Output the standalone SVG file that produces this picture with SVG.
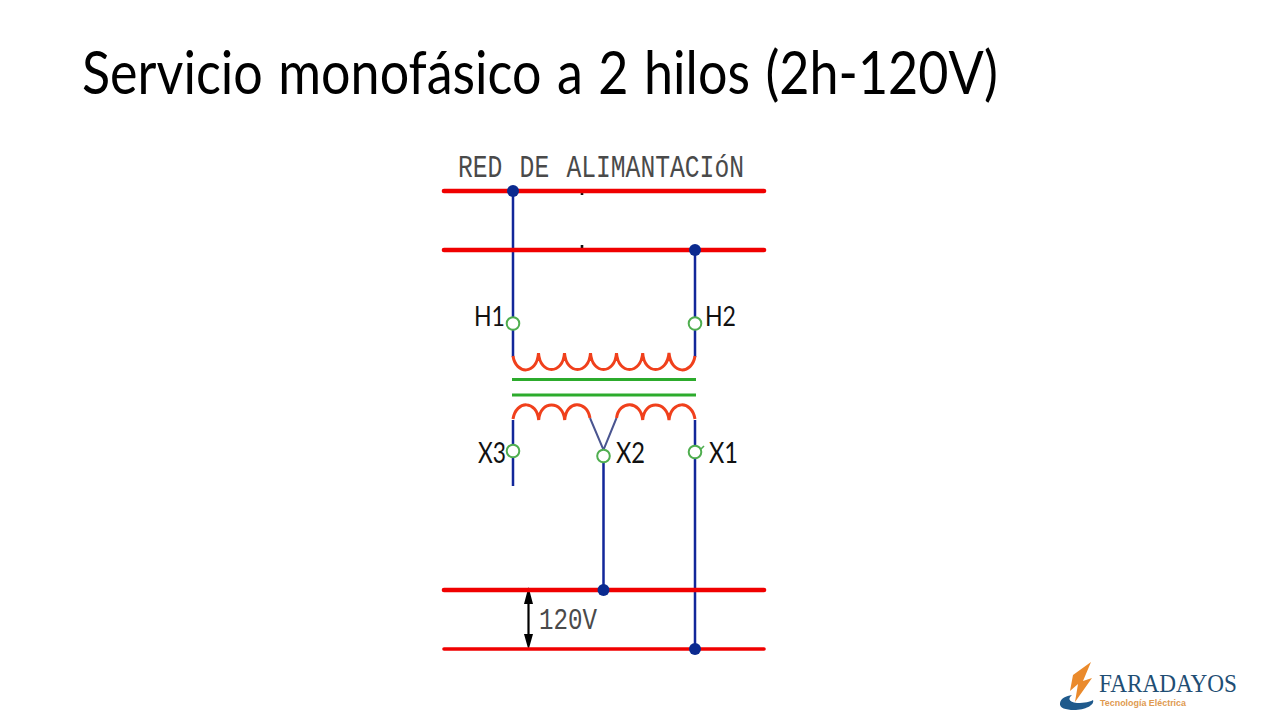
<svg xmlns="http://www.w3.org/2000/svg" width="1280" height="720" viewBox="0 0 1280 720">
<style>
.bus{stroke:#f00000;stroke-width:4.6;stroke-linecap:round;fill:none}
.wire{stroke:#12279a;stroke-width:2.5;fill:none}
.coil{stroke:#f0401c;stroke-width:3;fill:none}
.core{stroke:#2cab2c;stroke-width:3;fill:none}
.term{fill:#fff;stroke:#4fae4f;stroke-width:2}
.dot{fill:#0b2a8f}
.lab{font-family:Lato,"Liberation Sans",Arial,sans-serif;fill:#111}
.h{font-size:26px}
.x{font-size:28px}
.cad{font-family:"Liberation Mono","DejaVu Sans Mono",monospace;fill:#4a4a4a}
</style>
<rect width="1280" height="720" fill="#fff"/>
<text id="title" x="82" y="94" font-family="Lato,'Open Sans',sans-serif" font-size="60" fill="#000" word-spacing="2.500" textLength="916" lengthAdjust="spacingAndGlyphs">Servicio monofásico a 2 hilos (2h-120V)</text>
<text id="supply-label" class="cad" x="458" y="177" font-size="31" word-spacing="3" textLength="286" lengthAdjust="spacingAndGlyphs">RED DE ALIMANTACIóN</text>
<g id="connectors">
<path class="wire" d="M513 191V357M695 250V357M513 420V486M603.5 456V590M695 420V649"/>
<path d="M590 418L603.5 450L616.5 418" fill="none" stroke="#4a5590" stroke-width="2"/>
<path d="M528.500 600V638" stroke="#000" stroke-width="2.200" fill="none"/>
<path d="M528.500 587L533 604H524ZM528.500 650L533 634H524Z" fill="#000"/>
<path d="M582 192v3M582 245v4" stroke="#111" stroke-width="2.600"/>
</g>
<g id="bus-1"><path class="bus" d="M444 191H764"/></g>
<g id="bus-2"><path class="bus" d="M444 250H764"/></g>
<g id="bus-3"><path class="bus" d="M444 590H764"/></g>
<g id="bus-4"><path class="bus" style="stroke-width:3.600" d="M444 649H764"/></g>
<g id="primary-coil"><path class="coil" d="M513 356C516 375 537 375 538.5 353C540 375 563 375 564.5 353C566 375 589 375 590.5 353C592 375 615 375 616.5 353C618 375 641 375 642.7 353C644 375 667 375 669 353C671 375 692 375 695 356"/></g>
<g id="core"><path class="core" d="M512 379.500H696M512 395H696"/></g>
<g id="secondary-coil"><path class="coil" d="M513 419C516 400 537 400 538.700 420C540 400 563 400 564.700 420C566 400 587 400 590 418M616.500 418C619 400 641 400 642.700 420C644 400 667 400 669 420C671 400 692 400 695 419"/></g>
<g id="dots">
<circle class="dot" cx="513" cy="191" r="6"/>
<circle class="dot" cx="695" cy="250" r="6"/>
<circle class="dot" cx="603.500" cy="590" r="6"/>
<circle class="dot" cx="695" cy="649" r="6"/>
</g>
<g id="H1"><circle class="term" cx="513" cy="323.500" r="6.300"/><text class="lab h" x="474" y="326" textLength="31" lengthAdjust="spacingAndGlyphs">H1</text></g>
<g id="H2"><circle class="term" cx="695" cy="323.500" r="6.300"/><text class="lab h" x="705" y="326" textLength="31" lengthAdjust="spacingAndGlyphs">H2</text></g>
<g id="X3"><circle class="term" cx="513" cy="451" r="6.300"/><text class="lab x" x="478" y="462.500" textLength="28" lengthAdjust="spacingAndGlyphs">X3</text></g>
<g id="X2"><circle class="term" cx="603.500" cy="456" r="6.300"/><text class="lab x" x="616" y="462.500" textLength="29" lengthAdjust="spacingAndGlyphs">X2</text></g>
<g id="X1"><circle class="term" cx="695" cy="452" r="6.300"/><path d="M701 449L704 446" stroke="#4fae4f" stroke-width="1.600" fill="none"/><text class="lab x" x="709" y="462.500" textLength="29" lengthAdjust="spacingAndGlyphs">X1</text></g>
<text id="voltage" class="cad" x="539" y="629" font-size="30" textLength="58" lengthAdjust="spacingAndGlyphs">120V</text>
<g id="logo">
<path d="M1091 662L1073 675L1070 691L1078 684L1075 702L1092 678L1083 681Z" fill="#ea8a2c"/>
<path d="M1060 703C1061 698 1066 696 1072 695C1068 698 1068 702 1077 703C1085 703 1090 702 1093 700C1095 705 1085 710 1074 710C1066 710 1059 708 1060 703Z" fill="#1f5a8c"/>
<text x="1099" y="692" font-family="'Liberation Serif',serif" font-size="26" fill="#1f4e74" textLength="138" lengthAdjust="spacingAndGlyphs">FARADAYOS</text>
<text x="1100" y="706" font-family="'Liberation Sans',sans-serif" font-size="9.500" font-weight="bold" fill="#e09a50" textLength="86" lengthAdjust="spacingAndGlyphs">Tecnología Eléctrica</text>
</g>
</svg>
